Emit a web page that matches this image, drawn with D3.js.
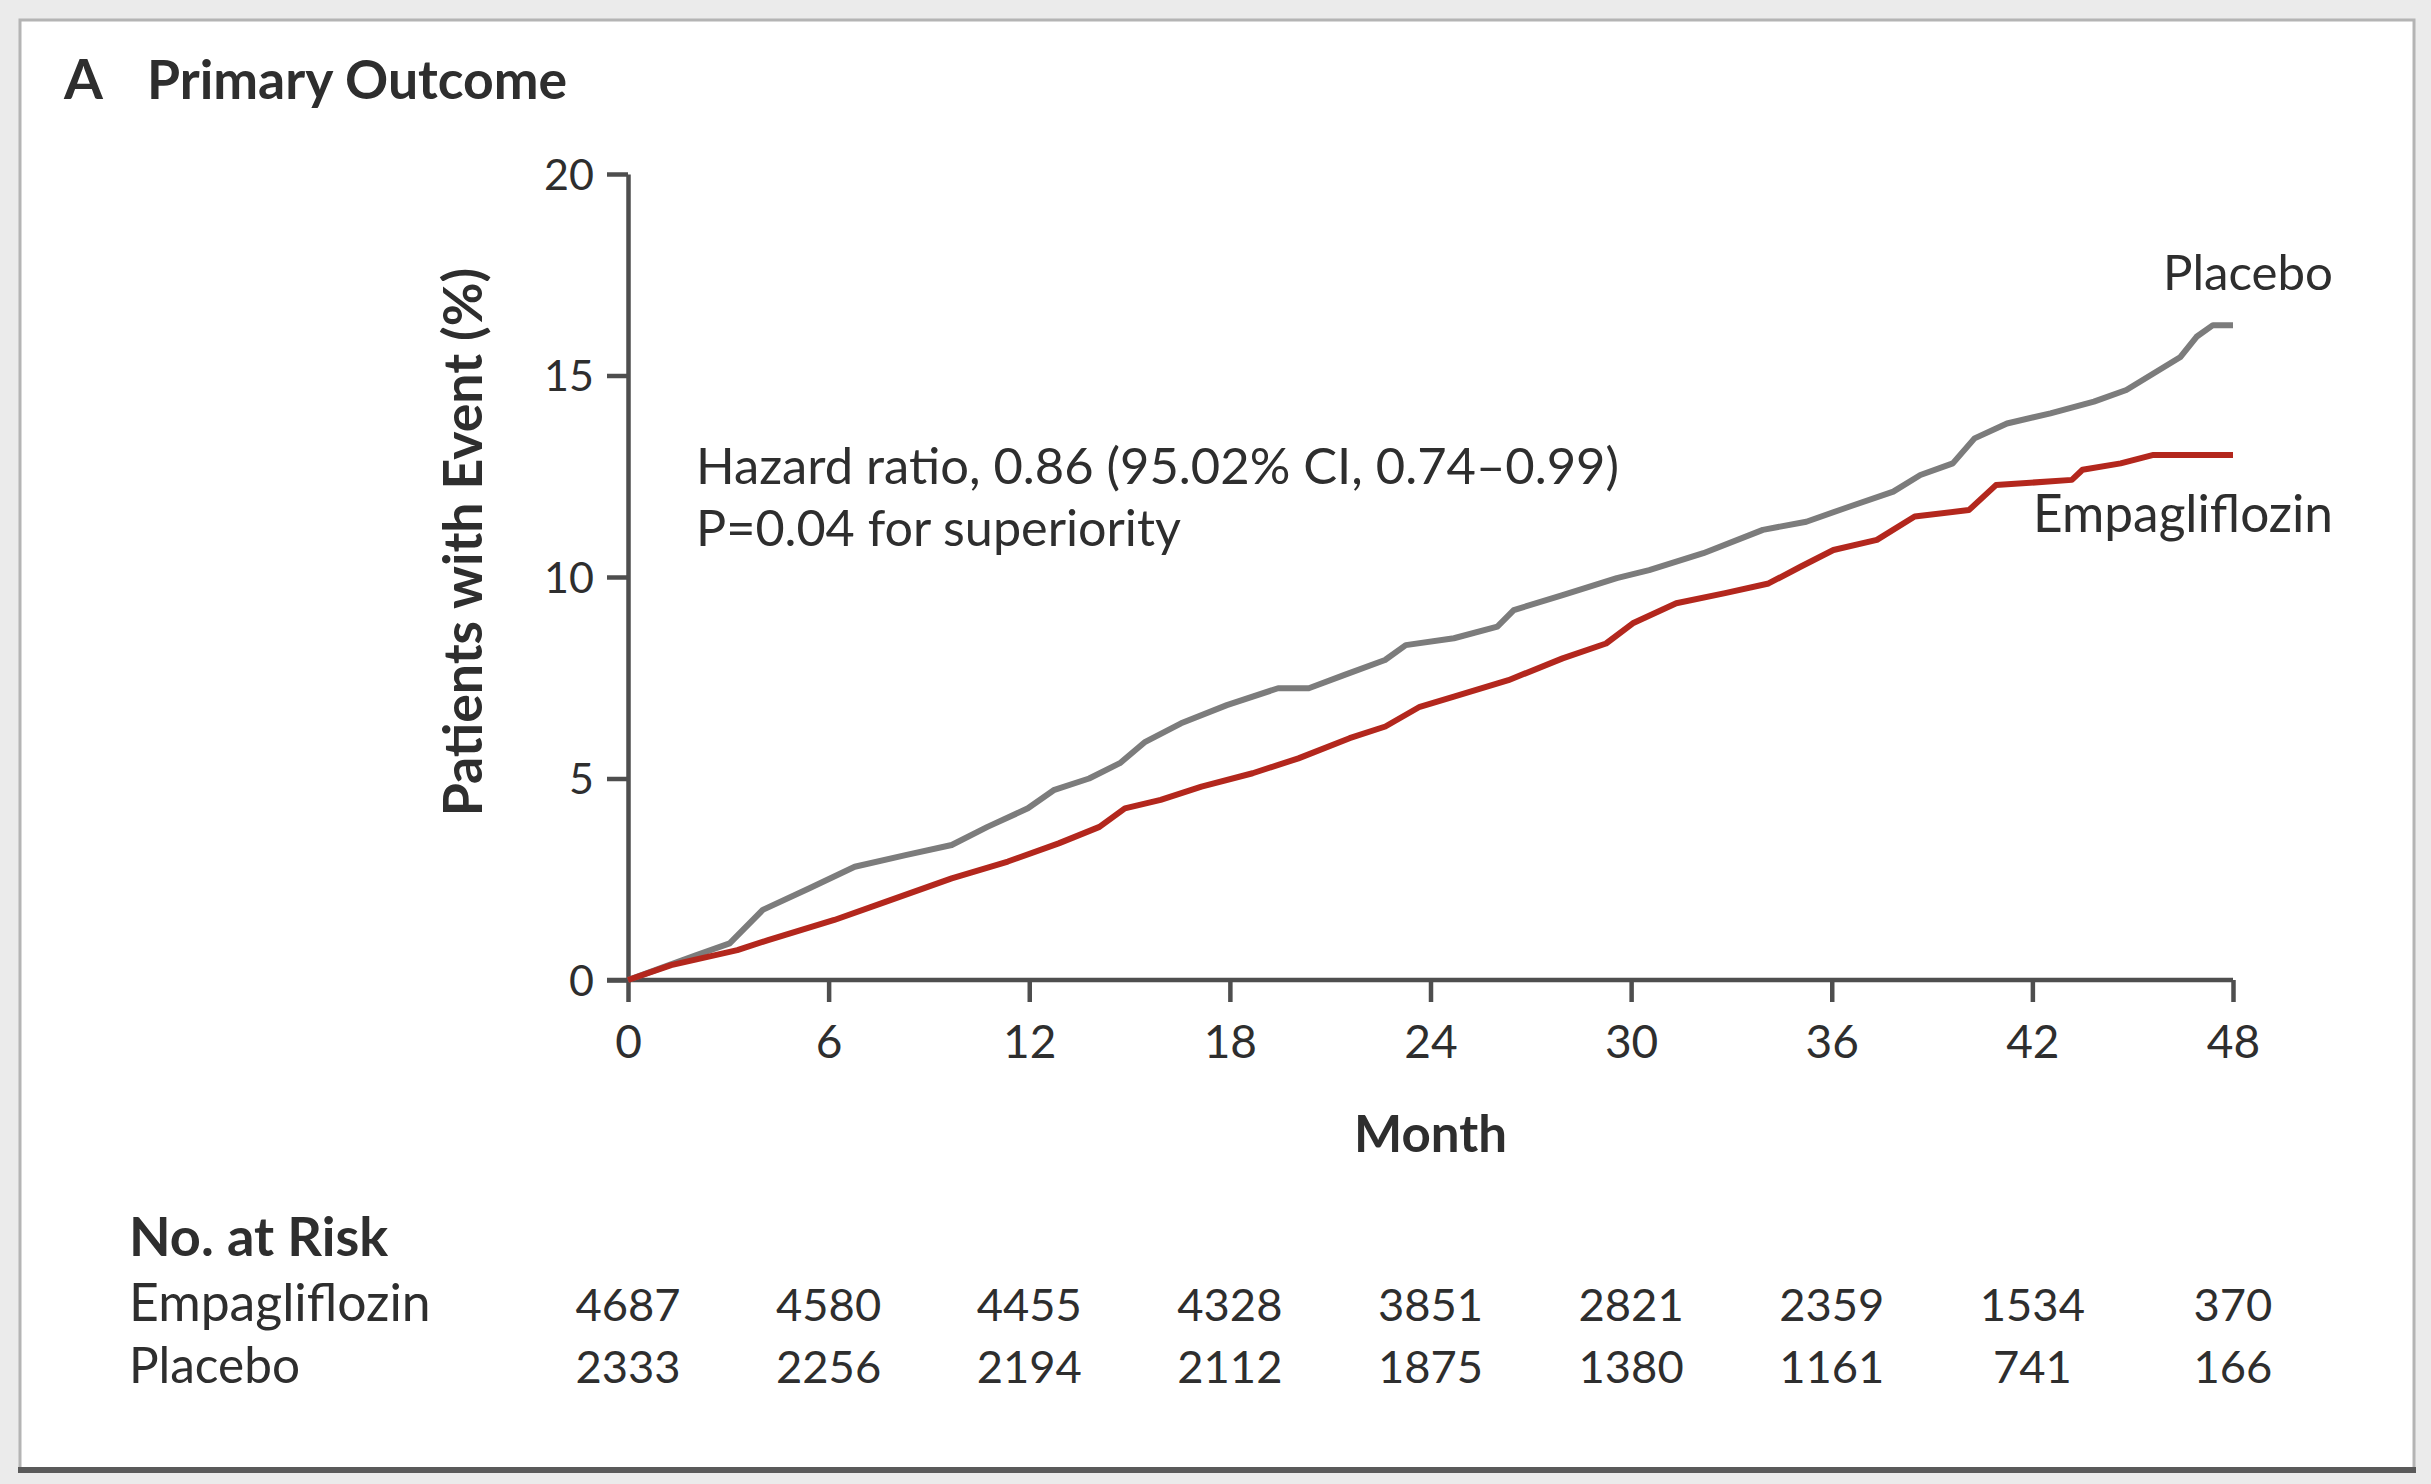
<!DOCTYPE html>
<html>
<head>
<meta charset="utf-8">
<script src="https://cdn.jsdelivr.net/npm/d3@7"></script>
<style>
  html, body { margin: 0; padding: 0; background: #ebebeb; }
  svg text { font-family: Lato, Roboto, sans-serif; fill: #2e2e2e; }
</style>
</head>
<body>
<div id="chart"></div>
<script>
// axis ticks
var monthTicks = [0, 6, 12, 18, 24, 30, 36, 42, 48];
var pctTicks = [0, 5, 10, 15, 20];

// number at risk, one value per month tick
var riskEmpa = [4687, 4580, 4455, 4328, 3851, 2821, 2359, 1534, 370];
var riskPlacebo = [2333, 2256, 2194, 2112, 1875, 1380, 1161, 741, 166];

// cumulative incidence (%)
var placeboMonths = [0, 1.0, 2.05, 3.04, 4.03, 5.41, 6.78, 8.3, 9.68, 10.75, 11.96, 12.73, 13.79, 14.71, 15.47, 16.54, 17.91, 19.44, 20.36, 21.43, 22.64, 23.26, 24.7, 26.0, 26.49, 27.95, 29.57, 30.54, 32.16, 33.94, 35.24, 36.54, 37.84, 38.65, 39.62, 40.27, 41.24, 42.54, 43.84, 44.81, 45.62, 46.43, 46.91, 47.4, 48];
var placeboPct = [0, 0.3, 0.62, 0.91, 1.74, 2.27, 2.81, 3.10, 3.35, 3.80, 4.26, 4.71, 5.0, 5.38, 5.91, 6.37, 6.82, 7.24, 7.24, 7.57, 7.94, 8.31, 8.48, 8.77, 9.18, 9.55, 9.97, 10.17, 10.59, 11.17, 11.37, 11.75, 12.12, 12.53, 12.82, 13.44, 13.81, 14.06, 14.35, 14.64, 15.05, 15.46, 15.96, 16.25, 16.25];
var empaMonths = [0, 1.29, 3.27, 4.19, 6.17, 7.7, 9.68, 11.36, 12.88, 14.1, 14.86, 15.93, 17.15, 18.68, 20.05, 21.58, 22.65, 23.68, 24.7, 26.33, 27.95, 29.25, 30.05, 31.35, 32.81, 34.11, 35.08, 36.05, 37.35, 38.48, 40.1, 40.91, 43.18, 43.5, 44.64, 45.62, 48];
var empaPct = [0, 0.37, 0.74, 0.99, 1.49, 1.94, 2.52, 2.94, 3.39, 3.80, 4.26, 4.47, 4.80, 5.13, 5.50, 6.0, 6.29, 6.78, 7.03, 7.44, 7.98, 8.35, 8.85, 9.35, 9.60, 9.84, 10.26, 10.67, 10.92, 11.5, 11.66, 12.28, 12.41, 12.66, 12.82, 13.03, 13.03];

var total_width = 2431, total_height = 1484;
var plot = {left: 628, right: 2233, top: 174, bottom: 980};
var axisColor = "#4e4e4e";

// scale a text so it spans the given width
function fit(sel, target) {
  var fs = parseFloat(sel.attr("font-size"));
  var len = sel.node().getComputedTextLength();
  sel.attr("font-size", (fs * target / len).toFixed(1));
  return sel;
}

var svg = d3.select("#chart").append("svg")
    .attr("width", total_width)
    .attr("height", total_height);

// panel
svg.append("rect")
    .attr("x", 20).attr("y", 20)
    .attr("width", 2394).attr("height", 1450)
    .attr("fill", "#ffffff")
    .attr("stroke", "#b4b4b4")
    .attr("stroke-width", 3);
svg.append("line")
    .attr("x1", 18).attr("x2", 2416)
    .attr("y1", 1470).attr("y2", 1470)
    .attr("stroke", "#5a5a5a")
    .attr("stroke-width", 6);

// title
svg.append("text")
    .attr("x", 64).attr("y", 99)
    .attr("font-size", 56).attr("font-weight", "bold")
    .attr("fill", "#222")
    .text("A");
fit(svg.append("text")
    .attr("x", 147).attr("y", 99)
    .attr("font-size", 50).attr("font-weight", "bold")
    .attr("fill", "#222")
    .text("Primary Outcome"), 420);

var x = d3.scaleLinear().domain([0, 48]).range([plot.left, plot.right]);
var y = d3.scaleLinear().domain([0, 20]).range([plot.bottom, plot.top]);

// y axis
var yAxis = svg.append("g")
    .attr("transform", "translate(" + plot.left + ",0)")
    .call(d3.axisLeft(y).tickValues(pctTicks).tickSize(21).tickSizeOuter(0).tickPadding(13));
yAxis.selectAll("path, line").attr("stroke", axisColor).attr("stroke-width", 4.5);
yAxis.selectAll("text")
    .attr("font-size", 43)
    .attr("fill", "#3a3a3a")
    .attr("dy", "0.35em")
    .style("font-family", "Lato, Roboto, sans-serif");

// x axis
var xAxis = svg.append("g")
    .attr("transform", "translate(0," + plot.bottom + ")")
    .call(d3.axisBottom(x).tickValues(monthTicks).tickSize(22).tickSizeOuter(0));
xAxis.selectAll("path, line").attr("stroke", axisColor).attr("stroke-width", 4.5);
xAxis.select(".domain").attr("d", "M" + (plot.left - 21) + ",0H" + plot.right);
xAxis.selectAll("text")
    .attr("font-size", 46)
    .attr("fill", "#3a3a3a")
    .attr("y", 78).attr("dy", 0)
    .style("font-family", "Lato, Roboto, sans-serif");

// axis titles
fit(svg.append("text")
    .attr("transform", "translate(482,542) rotate(-90)")
    .attr("text-anchor", "middle")
    .attr("font-size", 50).attr("font-weight", "bold")
    .attr("fill", "#222")
    .text("Patients with Event (%)"), 549);
fit(svg.append("text")
    .attr("x", (plot.left + plot.right) / 2).attr("y", 1152)
    .attr("text-anchor", "middle")
    .attr("font-size", 50).attr("font-weight", "bold")
    .attr("fill", "#222")
    .text("Month"), 153);

// curves
var line = d3.line()
    .x(function (d) { return x(d[0]); })
    .y(function (d) { return y(d[1]); });

var series = [
  {name: "Placebo", pts: d3.zip(placeboMonths, placeboPct), color: "#7c7c7c"},
  {name: "Empagliflozin", pts: d3.zip(empaMonths, empaPct), color: "#b3271d"}
];

svg.append("g")
    .selectAll("path")
    .data(series)
    .enter()
    .append("path")
      .attr("d", function (d) { return line(d.pts); })
      .attr("fill", "none")
      .attr("stroke", function (d) { return d.color; })
      .attr("stroke-width", 6)
      .attr("stroke-linejoin", "round");

// curve labels
fit(svg.append("text")
    .attr("x", 2333).attr("y", 290)
    .attr("text-anchor", "end")
    .attr("font-size", 46)
    .text("Placebo"), 170);
fit(svg.append("text")
    .attr("x", 2333).attr("y", 532)
    .attr("text-anchor", "end")
    .attr("font-size", 46)
    .text("Empagliflozin"), 300);

// hazard ratio note
fit(svg.append("text")
    .attr("x", 696).attr("y", 484)
    .attr("font-size", 48)
    .text("Hazard ratio, 0.86 (95.02% CI, 0.74\u20130.99)"), 924);
fit(svg.append("text")
    .attr("x", 696).attr("y", 546)
    .attr("font-size", 48)
    .text("P=0.04 for superiority"), 485);

// number at risk table
fit(svg.append("text")
    .attr("x", 129).attr("y", 1256)
    .attr("font-size", 50).attr("font-weight", "bold")
    .attr("fill", "#222")
    .text("No. at Risk"), 259);

var rows = [
  {label: "Empagliflozin", values: riskEmpa, y: 1321, w: 302},
  {label: "Placebo", values: riskPlacebo, y: 1383, w: 171}
];

rows.forEach(function (r) {
  fit(svg.append("text")
      .attr("x", 129).attr("y", r.y)
      .attr("font-size", 48)
      .text(r.label), r.w);
  var nums = svg.append("g")
      .selectAll("text")
      .data(r.values)
      .enter()
      .append("text")
        .attr("x", function (d, i) { return x(monthTicks[i]); })
        .attr("y", r.y)
        .attr("text-anchor", "middle")
        .attr("font-size", 48)
        .style("font-variant-numeric", "tabular-nums")
        .text(function (d) { return d; });
  // size the counts so a four-digit number spans its reference width
  var first = d3.select(nums.nodes()[0]);
  fit(first, 105);
  nums.attr("font-size", first.attr("font-size"));
});
</script>
</body>
</html>
